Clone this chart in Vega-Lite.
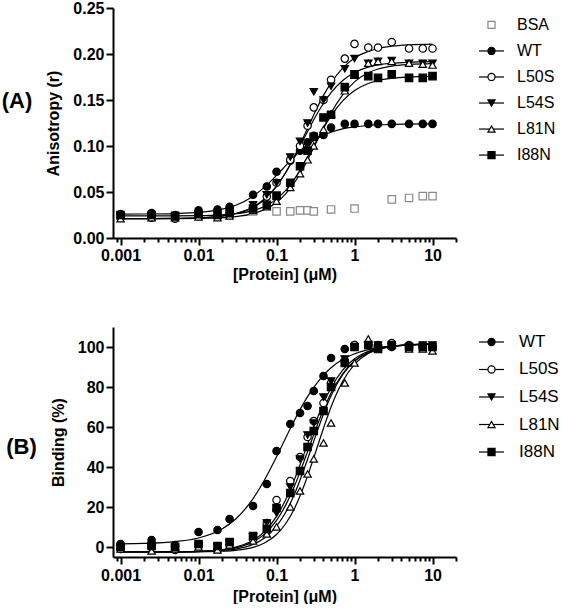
{
"$schema": "https://vega.github.io/schema/vega-lite/v6.json",
"padding": {"left": 1, "top": 0, "right": 0, "bottom": 0},
"config": {
  "font": "Liberation Sans",
  "view": {"stroke": null},
  "axis": {"domainColor": "black", "domainWidth": 2, "tickColor": "black", "tickWidth": 2, "labelColor": "black", "titleColor": "black", "labelFont": "Liberation Sans", "titleFont": "Liberation Sans", "labelFontWeight": "bold", "titleFontWeight": "bold", "grid": false, "labelFlush": false, "labelOverlap": false}
},
"columns": 2,
"spacing": {"row": 45, "column": 7},
"datasets": {
"curvesA": [
{"p":"WT","c":0.001,"v":0.026},{"p":"WT","c":0.002,"v":0.0261},{"p":"WT","c":0.005,"v":0.0266},{"p":"WT","c":0.01,"v":0.0278},{"p":"WT","c":0.02,"v":0.0313},{"p":"WT","c":0.03,"v":0.0356},{"p":"WT","c":0.05,"v":0.0455},{"p":"WT","c":0.07,"v":0.0553},{"p":"WT","c":0.1,"v":0.0681},{"p":"WT","c":0.13,"v":0.0784},{"p":"WT","c":0.17,"v":0.0886},{"p":"WT","c":0.2,"v":0.0942},{"p":"WT","c":0.25,"v":0.101},{"p":"WT","c":0.3,"v":0.1057},{"p":"WT","c":0.4,"v":0.1116},{"p":"WT","c":0.5,"v":0.1149},{"p":"WT","c":0.7,"v":0.1186},{"p":"WT","c":1,"v":0.1208},{"p":"WT","c":1.5,"v":0.1223},{"p":"WT","c":2,"v":0.1229},{"p":"WT","c":3,"v":0.1234},{"p":"WT","c":5,"v":0.1238},{"p":"WT","c":10,"v":0.124},
{"p":"L50S","c":0.001,"v":0.021},{"p":"L50S","c":0.002,"v":0.0211},{"p":"L50S","c":0.005,"v":0.0213},{"p":"L50S","c":0.01,"v":0.0219},{"p":"L50S","c":0.02,"v":0.0237},{"p":"L50S","c":0.03,"v":0.0264},{"p":"L50S","c":0.05,"v":0.0333},{"p":"L50S","c":0.07,"v":0.0419},{"p":"L50S","c":0.1,"v":0.056},{"p":"L50S","c":0.13,"v":0.0706},{"p":"L50S","c":0.17,"v":0.0888},{"p":"L50S","c":0.2,"v":0.1014},{"p":"L50S","c":0.25,"v":0.1193},{"p":"L50S","c":0.3,"v":0.1338},{"p":"L50S","c":0.4,"v":0.155},{"p":"L50S","c":0.5,"v":0.1686},{"p":"L50S","c":0.7,"v":0.1844},{"p":"L50S","c":1,"v":0.1956},{"p":"L50S","c":1.5,"v":0.2028},{"p":"L50S","c":2,"v":0.206},{"p":"L50S","c":3,"v":0.2084},{"p":"L50S","c":5,"v":0.2099},{"p":"L50S","c":10,"v":0.2107},
{"p":"L54S","c":0.001,"v":0.021},{"p":"L54S","c":0.002,"v":0.0211},{"p":"L54S","c":0.005,"v":0.0213},{"p":"L54S","c":0.01,"v":0.0219},{"p":"L54S","c":0.02,"v":0.0239},{"p":"L54S","c":0.03,"v":0.0266},{"p":"L54S","c":0.05,"v":0.0338},{"p":"L54S","c":0.07,"v":0.0424},{"p":"L54S","c":0.1,"v":0.0565},{"p":"L54S","c":0.13,"v":0.0706},{"p":"L54S","c":0.17,"v":0.088},{"p":"L54S","c":0.2,"v":0.0996},{"p":"L54S","c":0.25,"v":0.1157},{"p":"L54S","c":0.3,"v":0.1285},{"p":"L54S","c":0.4,"v":0.1465},{"p":"L54S","c":0.5,"v":0.158},{"p":"L54S","c":0.7,"v":0.171},{"p":"L54S","c":1,"v":0.1799},{"p":"L54S","c":1.5,"v":0.1857},{"p":"L54S","c":2,"v":0.1881},{"p":"L54S","c":3,"v":0.19},{"p":"L54S","c":5,"v":0.1911},{"p":"L54S","c":10,"v":0.1917},
{"p":"L81N","c":0.001,"v":0.021},{"p":"L81N","c":0.002,"v":0.021},{"p":"L81N","c":0.005,"v":0.0211},{"p":"L81N","c":0.01,"v":0.0213},{"p":"L81N","c":0.02,"v":0.0221},{"p":"L81N","c":0.03,"v":0.0232},{"p":"L81N","c":0.05,"v":0.0265},{"p":"L81N","c":0.07,"v":0.0308},{"p":"L81N","c":0.1,"v":0.0386},{"p":"L81N","c":0.13,"v":0.0476},{"p":"L81N","c":0.17,"v":0.0603},{"p":"L81N","c":0.2,"v":0.0698},{"p":"L81N","c":0.25,"v":0.0849},{"p":"L81N","c":0.3,"v":0.0983},{"p":"L81N","c":0.4,"v":0.12},{"p":"L81N","c":0.5,"v":0.1358},{"p":"L81N","c":0.7,"v":0.1553},{"p":"L81N","c":1,"v":0.1697},{"p":"L81N","c":1.5,"v":0.1796},{"p":"L81N","c":2,"v":0.1837},{"p":"L81N","c":3,"v":0.1869},{"p":"L81N","c":5,"v":0.1887},{"p":"L81N","c":10,"v":0.1896},
{"p":"I88N","c":0.001,"v":0.024},{"p":"I88N","c":0.002,"v":0.024},{"p":"I88N","c":0.005,"v":0.0241},{"p":"I88N","c":0.01,"v":0.0243},{"p":"I88N","c":0.02,"v":0.0252},{"p":"I88N","c":0.03,"v":0.0264},{"p":"I88N","c":0.05,"v":0.0298},{"p":"I88N","c":0.07,"v":0.0343},{"p":"I88N","c":0.1,"v":0.0425},{"p":"I88N","c":0.13,"v":0.0516},{"p":"I88N","c":0.17,"v":0.0642},{"p":"I88N","c":0.2,"v":0.0735},{"p":"I88N","c":0.25,"v":0.0876},{"p":"I88N","c":0.3,"v":0.1},{"p":"I88N","c":0.4,"v":0.1193},{"p":"I88N","c":0.5,"v":0.1327},{"p":"I88N","c":0.7,"v":0.1488},{"p":"I88N","c":1,"v":0.1604},{"p":"I88N","c":1.5,"v":0.168},{"p":"I88N","c":2,"v":0.1712},{"p":"I88N","c":3,"v":0.1736},{"p":"I88N","c":5,"v":0.175},{"p":"I88N","c":10,"v":0.1757}
],
"pointsA": [
{"p":"BSA","c":0.05,"v":0.029},{"p":"BSA","c":0.1,"v":0.029},{"p":"BSA","c":0.15,"v":0.029},{"p":"BSA","c":0.2,"v":0.03},{"p":"BSA","c":0.25,"v":0.03},{"p":"BSA","c":0.3,"v":0.029},{"p":"BSA","c":0.5,"v":0.031},{"p":"BSA","c":1,"v":0.032},{"p":"BSA","c":3,"v":0.042},{"p":"BSA","c":5,"v":0.0435},{"p":"BSA","c":7.5,"v":0.0455},{"p":"BSA","c":10,"v":0.0455},
{"p":"WT","c":0.001,"v":0.026},{"p":"WT","c":0.0025,"v":0.027},{"p":"WT","c":0.005,"v":0.025},{"p":"WT","c":0.01,"v":0.03},{"p":"WT","c":0.0175,"v":0.031},{"p":"WT","c":0.025,"v":0.034},{"p":"WT","c":0.05,"v":0.047},{"p":"WT","c":0.075,"v":0.056},{"p":"WT","c":0.1,"v":0.072},{"p":"WT","c":0.15,"v":0.084},{"p":"WT","c":0.2,"v":0.095},{"p":"WT","c":0.25,"v":0.104},{"p":"WT","c":0.3,"v":0.111},{"p":"WT","c":0.4,"v":0.112},{"p":"WT","c":0.5,"v":0.12},{"p":"WT","c":0.75,"v":0.124},{"p":"WT","c":1,"v":0.124},{"p":"WT","c":1.5,"v":0.124},{"p":"WT","c":2,"v":0.124},{"p":"WT","c":3,"v":0.124},{"p":"WT","c":5,"v":0.124},{"p":"WT","c":7.5,"v":0.124},{"p":"WT","c":10,"v":0.124},
{"p":"L50S","c":0.001,"v":0.022},{"p":"L50S","c":0.0025,"v":0.022},{"p":"L50S","c":0.005,"v":0.021},{"p":"L50S","c":0.01,"v":0.024},{"p":"L50S","c":0.0175,"v":0.024},{"p":"L50S","c":0.025,"v":0.026},{"p":"L50S","c":0.05,"v":0.033},{"p":"L50S","c":0.075,"v":0.045},{"p":"L50S","c":0.1,"v":0.06},{"p":"L50S","c":0.15,"v":0.085},{"p":"L50S","c":0.2,"v":0.1},{"p":"L50S","c":0.25,"v":0.122},{"p":"L50S","c":0.3,"v":0.142},{"p":"L50S","c":0.4,"v":0.15},{"p":"L50S","c":0.5,"v":0.172},{"p":"L50S","c":0.75,"v":0.195},{"p":"L50S","c":1,"v":0.211},{"p":"L50S","c":1.5,"v":0.207},{"p":"L50S","c":2,"v":0.207},{"p":"L50S","c":3,"v":0.213},{"p":"L50S","c":5,"v":0.206},{"p":"L50S","c":7.5,"v":0.206},{"p":"L50S","c":10,"v":0.206},
{"p":"L54S","c":0.001,"v":0.023},{"p":"L54S","c":0.0025,"v":0.024},{"p":"L54S","c":0.005,"v":0.023},{"p":"L54S","c":0.01,"v":0.025},{"p":"L54S","c":0.0175,"v":0.027},{"p":"L54S","c":0.025,"v":0.029},{"p":"L54S","c":0.05,"v":0.036},{"p":"L54S","c":0.075,"v":0.047},{"p":"L54S","c":0.1,"v":0.06},{"p":"L54S","c":0.15,"v":0.088},{"p":"L54S","c":0.2,"v":0.105},{"p":"L54S","c":0.25,"v":0.125},{"p":"L54S","c":0.3,"v":0.159},{"p":"L54S","c":0.4,"v":0.15},{"p":"L54S","c":0.5,"v":0.165},{"p":"L54S","c":0.75,"v":0.184},{"p":"L54S","c":1,"v":0.195},{"p":"L54S","c":1.5,"v":0.19},{"p":"L54S","c":2,"v":0.192},{"p":"L54S","c":3,"v":0.193},{"p":"L54S","c":5,"v":0.19},{"p":"L54S","c":7.5,"v":0.19},{"p":"L54S","c":10,"v":0.19},
{"p":"L81N","c":0.001,"v":0.021},{"p":"L81N","c":0.0025,"v":0.022},{"p":"L81N","c":0.005,"v":0.022},{"p":"L81N","c":0.01,"v":0.023},{"p":"L81N","c":0.0175,"v":0.022},{"p":"L81N","c":0.025,"v":0.024},{"p":"L81N","c":0.05,"v":0.03},{"p":"L81N","c":0.075,"v":0.034},{"p":"L81N","c":0.1,"v":0.04},{"p":"L81N","c":0.15,"v":0.055},{"p":"L81N","c":0.2,"v":0.07},{"p":"L81N","c":0.25,"v":0.085},{"p":"L81N","c":0.3,"v":0.1},{"p":"L81N","c":0.4,"v":0.118},{"p":"L81N","c":0.5,"v":0.135},{"p":"L81N","c":0.75,"v":0.16},{"p":"L81N","c":1,"v":0.177},{"p":"L81N","c":1.5,"v":0.19},{"p":"L81N","c":2,"v":0.192},{"p":"L81N","c":3,"v":0.192},{"p":"L81N","c":5,"v":0.19},{"p":"L81N","c":7.5,"v":0.189},{"p":"L81N","c":10,"v":0.188},
{"p":"I88N","c":0.001,"v":0.025},{"p":"I88N","c":0.0025,"v":0.025},{"p":"I88N","c":0.005,"v":0.024},{"p":"I88N","c":0.01,"v":0.026},{"p":"I88N","c":0.0175,"v":0.025},{"p":"I88N","c":0.025,"v":0.027},{"p":"I88N","c":0.05,"v":0.032},{"p":"I88N","c":0.075,"v":0.036},{"p":"I88N","c":0.1,"v":0.046},{"p":"I88N","c":0.15,"v":0.06},{"p":"I88N","c":0.2,"v":0.078},{"p":"I88N","c":0.25,"v":0.095},{"p":"I88N","c":0.3,"v":0.11},{"p":"I88N","c":0.4,"v":0.131},{"p":"I88N","c":0.5,"v":0.134},{"p":"I88N","c":0.75,"v":0.164},{"p":"I88N","c":1,"v":0.178},{"p":"I88N","c":1.5,"v":0.176},{"p":"I88N","c":2,"v":0.174},{"p":"I88N","c":3,"v":0.178},{"p":"I88N","c":5,"v":0.174},{"p":"I88N","c":7.5,"v":0.174},{"p":"I88N","c":10,"v":0.176}
],
"curvesB": [
{"p":"WT","c":0.001,"v":1.6},{"p":"WT","c":0.002,"v":1.8},{"p":"WT","c":0.005,"v":2.7},{"p":"WT","c":0.01,"v":4.5},{"p":"WT","c":0.02,"v":9},{"p":"WT","c":0.03,"v":14},{"p":"WT","c":0.05,"v":24.2},{"p":"WT","c":0.07,"v":33.5},{"p":"WT","c":0.1,"v":45.1},{"p":"WT","c":0.13,"v":54.3},{"p":"WT","c":0.17,"v":63.4},{"p":"WT","c":0.2,"v":68.7},{"p":"WT","c":0.25,"v":75.2},{"p":"WT","c":0.3,"v":79.8},{"p":"WT","c":0.4,"v":85.9},{"p":"WT","c":0.5,"v":89.6},{"p":"WT","c":0.7,"v":93.7},{"p":"WT","c":1,"v":96.6},{"p":"WT","c":1.5,"v":98.7},{"p":"WT","c":2,"v":99.6},{"p":"WT","c":3,"v":100.4},{"p":"WT","c":5,"v":101},{"p":"WT","c":10,"v":101.3},
{"p":"L50S","c":0.001,"v":-2.5},{"p":"L50S","c":0.002,"v":-2.48},{"p":"L50S","c":0.005,"v":-2.41},{"p":"L50S","c":0.01,"v":-2.21},{"p":"L50S","c":0.02,"v":-1.48},{"p":"L50S","c":0.03,"v":-0.41},{"p":"L50S","c":0.05,"v":2.59},{"p":"L50S","c":0.07,"v":6.45},{"p":"L50S","c":0.1,"v":13.3},{"p":"L50S","c":0.13,"v":20.7},{"p":"L50S","c":0.17,"v":30.5},{"p":"L50S","c":0.2,"v":37.5},{"p":"L50S","c":0.25,"v":47.7},{"p":"L50S","c":0.3,"v":56.2},{"p":"L50S","c":0.4,"v":68.7},{"p":"L50S","c":0.5,"v":77},{"p":"L50S","c":0.7,"v":86.5},{"p":"L50S","c":1,"v":93},{"p":"L50S","c":1.5,"v":97.2},{"p":"L50S","c":2,"v":98.9},{"p":"L50S","c":3,"v":100.2},{"p":"L50S","c":5,"v":101},{"p":"L50S","c":10,"v":101.4},
{"p":"L54S","c":0.001,"v":-2.5},{"p":"L54S","c":0.002,"v":-2.48},{"p":"L54S","c":0.005,"v":-2.4},{"p":"L54S","c":0.01,"v":-2.16},{"p":"L54S","c":0.02,"v":-1.33},{"p":"L54S","c":0.03,"v":-0.1},{"p":"L54S","c":0.05,"v":3.32},{"p":"L54S","c":0.07,"v":7.7},{"p":"L54S","c":0.1,"v":15.3},{"p":"L54S","c":0.13,"v":23.4},{"p":"L54S","c":0.17,"v":33.8},{"p":"L54S","c":0.2,"v":41},{"p":"L54S","c":0.25,"v":51.4},{"p":"L54S","c":0.3,"v":59.8},{"p":"L54S","c":0.4,"v":71.9},{"p":"L54S","c":0.5,"v":79.6},{"p":"L54S","c":0.7,"v":88.3},{"p":"L54S","c":1,"v":94.1},{"p":"L54S","c":1.5,"v":97.8},{"p":"L54S","c":2,"v":99.3},{"p":"L54S","c":3,"v":100.4},{"p":"L54S","c":5,"v":101.1},{"p":"L54S","c":10,"v":101.4},
{"p":"L81N","c":0.001,"v":-2.5},{"p":"L81N","c":0.002,"v":-2.5},{"p":"L81N","c":0.005,"v":-2.48},{"p":"L81N","c":0.01,"v":-2.4},{"p":"L81N","c":0.02,"v":-2.12},{"p":"L81N","c":0.03,"v":-1.65},{"p":"L81N","c":0.05,"v":-0.17},{"p":"L81N","c":0.07,"v":1.98},{"p":"L81N","c":0.1,"v":6.25},{"p":"L81N","c":0.13,"v":11.5},{"p":"L81N","c":0.17,"v":19.3},{"p":"L81N","c":0.2,"v":25.5},{"p":"L81N","c":0.25,"v":35.5},{"p":"L81N","c":0.3,"v":44.6},{"p":"L81N","c":0.4,"v":59.4},{"p":"L81N","c":0.5,"v":70},{"p":"L81N","c":0.7,"v":82.6},{"p":"L81N","c":1,"v":91.3},{"p":"L81N","c":1.5,"v":96.7},{"p":"L81N","c":2,"v":98.7},{"p":"L81N","c":3,"v":100.3},{"p":"L81N","c":5,"v":101.1},{"p":"L81N","c":10,"v":101.4},
{"p":"I88N","c":0.001,"v":-2.5},{"p":"I88N","c":0.002,"v":-2.49},{"p":"I88N","c":0.005,"v":-2.45},{"p":"I88N","c":0.01,"v":-2.31},{"p":"I88N","c":0.02,"v":-1.81},{"p":"I88N","c":0.03,"v":-1.03},{"p":"I88N","c":0.05,"v":1.3},{"p":"I88N","c":0.07,"v":4.47},{"p":"I88N","c":0.1,"v":10.4},{"p":"I88N","c":0.13,"v":17.1},{"p":"I88N","c":0.17,"v":26.5},{"p":"I88N","c":0.2,"v":33.5},{"p":"I88N","c":0.25,"v":43.9},{"p":"I88N","c":0.3,"v":52.9},{"p":"I88N","c":0.4,"v":66.5},{"p":"I88N","c":0.5,"v":75.6},{"p":"I88N","c":0.7,"v":86},{"p":"I88N","c":1,"v":93},{"p":"I88N","c":1.5,"v":97.4},{"p":"I88N","c":2,"v":99.1},{"p":"I88N","c":3,"v":100.4},{"p":"I88N","c":5,"v":101.1},{"p":"I88N","c":10,"v":101.4}
],
"pointsB": [
{"p":"WT","c":0.001,"v":1.5},{"p":"WT","c":0.0025,"v":3.5},{"p":"WT","c":0.005,"v":1},{"p":"WT","c":0.01,"v":7.5},{"p":"WT","c":0.0175,"v":8.5},{"p":"WT","c":0.025,"v":14},{"p":"WT","c":0.05,"v":20.5},{"p":"WT","c":0.075,"v":31.5},{"p":"WT","c":0.1,"v":48},{"p":"WT","c":0.15,"v":61.5},{"p":"WT","c":0.2,"v":67},{"p":"WT","c":0.25,"v":70.5},{"p":"WT","c":0.3,"v":78},{"p":"WT","c":0.4,"v":85.5},{"p":"WT","c":0.5,"v":94.5},{"p":"WT","c":0.75,"v":99},{"p":"WT","c":1,"v":101},{"p":"WT","c":1.5,"v":101},{"p":"WT","c":2,"v":101},{"p":"WT","c":3,"v":100},{"p":"WT","c":5,"v":101},{"p":"WT","c":7.5,"v":100},{"p":"WT","c":10,"v":100},
{"p":"L50S","c":0.001,"v":-1},{"p":"L50S","c":0.0025,"v":0},{"p":"L50S","c":0.005,"v":-1.5},{"p":"L50S","c":0.01,"v":1},{"p":"L50S","c":0.0175,"v":-1},{"p":"L50S","c":0.025,"v":1},{"p":"L50S","c":0.05,"v":4},{"p":"L50S","c":0.075,"v":12},{"p":"L50S","c":0.1,"v":23.5},{"p":"L50S","c":0.15,"v":33},{"p":"L50S","c":0.2,"v":45},{"p":"L50S","c":0.25,"v":55},{"p":"L50S","c":0.3,"v":63},{"p":"L50S","c":0.4,"v":72},{"p":"L50S","c":0.5,"v":82},{"p":"L50S","c":0.75,"v":93},{"p":"L50S","c":1,"v":101},{"p":"L50S","c":1.5,"v":101},{"p":"L50S","c":2,"v":100},{"p":"L50S","c":3,"v":102},{"p":"L50S","c":5,"v":100},{"p":"L50S","c":7.5,"v":100},{"p":"L50S","c":10,"v":100},
{"p":"L54S","c":0.001,"v":-1},{"p":"L54S","c":0.0025,"v":-0.5},{"p":"L54S","c":0.005,"v":-1.5},{"p":"L54S","c":0.01,"v":0.5},{"p":"L54S","c":0.0175,"v":0},{"p":"L54S","c":0.025,"v":2},{"p":"L54S","c":0.05,"v":5},{"p":"L54S","c":0.075,"v":12},{"p":"L54S","c":0.1,"v":17},{"p":"L54S","c":0.15,"v":30},{"p":"L54S","c":0.2,"v":44},{"p":"L54S","c":0.25,"v":56},{"p":"L54S","c":0.3,"v":62},{"p":"L54S","c":0.4,"v":75},{"p":"L54S","c":0.5,"v":83},{"p":"L54S","c":0.75,"v":94},{"p":"L54S","c":1,"v":100},{"p":"L54S","c":1.5,"v":101},{"p":"L54S","c":2,"v":101},{"p":"L54S","c":3,"v":100},{"p":"L54S","c":5,"v":100},{"p":"L54S","c":7.5,"v":101},{"p":"L54S","c":10,"v":101},
{"p":"L81N","c":0.001,"v":-1},{"p":"L81N","c":0.0025,"v":-2},{"p":"L81N","c":0.005,"v":-1},{"p":"L81N","c":0.01,"v":0},{"p":"L81N","c":0.0175,"v":-1.5},{"p":"L81N","c":0.025,"v":1},{"p":"L81N","c":0.05,"v":3},{"p":"L81N","c":0.075,"v":6.5},{"p":"L81N","c":0.1,"v":10},{"p":"L81N","c":0.15,"v":20},{"p":"L81N","c":0.2,"v":28},{"p":"L81N","c":0.25,"v":36.5},{"p":"L81N","c":0.3,"v":44},{"p":"L81N","c":0.4,"v":52},{"p":"L81N","c":0.5,"v":62},{"p":"L81N","c":0.75,"v":82},{"p":"L81N","c":1,"v":92},{"p":"L81N","c":1.5,"v":104},{"p":"L81N","c":2,"v":100},{"p":"L81N","c":3,"v":101},{"p":"L81N","c":5,"v":99},{"p":"L81N","c":7.5,"v":99},{"p":"L81N","c":10,"v":98},
{"p":"I88N","c":0.001,"v":0},{"p":"I88N","c":0.0025,"v":0.5},{"p":"I88N","c":0.005,"v":0},{"p":"I88N","c":0.01,"v":1.5},{"p":"I88N","c":0.0175,"v":0.5},{"p":"I88N","c":0.025,"v":2.5},{"p":"I88N","c":0.05,"v":5.5},{"p":"I88N","c":0.075,"v":9},{"p":"I88N","c":0.1,"v":19.5},{"p":"I88N","c":0.15,"v":27},{"p":"I88N","c":0.2,"v":38},{"p":"I88N","c":0.25,"v":50},{"p":"I88N","c":0.3,"v":58},{"p":"I88N","c":0.4,"v":68},{"p":"I88N","c":0.5,"v":80},{"p":"I88N","c":0.75,"v":92},{"p":"I88N","c":1,"v":100},{"p":"I88N","c":1.5,"v":101},{"p":"I88N","c":2,"v":99},{"p":"I88N","c":3,"v":101},{"p":"I88N","c":5,"v":100},{"p":"I88N","c":7.5,"v":100},{"p":"I88N","c":10,"v":100}
],
"legendA": [{"p":"BSA"},{"p":"WT"},{"p":"L50S"},{"p":"L54S"},{"p":"L81N"},{"p":"I88N"}],
"legendB": [{"p":"WT"},{"p":"L50S"},{"p":"L54S"},{"p":"L81N"},{"p":"I88N"}]
},
"concat": [
{
 "width": 343, "height": 230,
 "title": {"text": "(A)", "orient": "left", "angle": 0, "align": "right", "baseline": "middle", "anchor": "middle", "fontSize": 22, "fontWeight": "bold", "offset": -17, "dy": -22, "color": "black", "font": "Liberation Sans"},
 "layer": [
  {"data": {"name": "curvesA"}, "mark": {"type": "line", "interpolate": "monotone", "color": "black", "strokeWidth": 1.2},
   "encoding": {
    "x": {"field": "c", "type": "quantitative", "scale": {"type": "log", "domain": [0.0008, 20], "nice": false},
      "axis": {"values": [0.0009, 0.001, 0.002, 0.003, 0.004, 0.005, 0.006, 0.007, 0.008, 0.009, 0.01, 0.02, 0.03, 0.04, 0.05, 0.06, 0.07, 0.08, 0.09, 0.1, 0.2, 0.3, 0.4, 0.5, 0.6, 0.7, 0.8, 0.9, 1, 2, 3, 4, 5, 6, 7, 8, 9, 10, 20],
        "labelExpr": "abs(log(datum.value)/LN10 - round(log(datum.value)/LN10)) < 0.01 ? toString(datum.value) : ''",
        "tickSize": {"condition": {"test": "abs(log(datum.value)/LN10 - round(log(datum.value)/LN10)) < 0.01", "value": 7}, "value": 4},
        "labelFontSize": 16, "labelPadding": 2, "title": "[Protein] (μM)", "titleFontSize": 16, "titlePadding": 3}},
    "y": {"field": "v", "type": "quantitative", "scale": {"domain": [0, 0.25], "nice": false}, "axis": {"values": [0, 0.05, 0.1, 0.15, 0.2, 0.25], "format": ".2f", "tickSize": 7, "labelFontSize": 16, "labelPadding": 2, "title": "Anisotropy (r)", "titleFontSize": 16, "titlePadding": 11}},
    "detail": {"field": "p"}
   }},
  {"data": {"name": "pointsA"}, "mark": {"type": "point", "filled": true, "size": 55, "strokeWidth": 1.2, "opacity": 1},
   "encoding": {
    "x": {"field": "c", "type": "quantitative"},
    "y": {"field": "v", "type": "quantitative"},
    "shape": {"field": "p", "type": "nominal", "scale": {"domain": ["BSA", "WT", "L50S", "L54S", "L81N", "I88N"], "range": ["square", "circle", "circle", "triangle-down", "triangle-up", "square"]}, "legend": null},
    "fill": {"field": "p", "type": "nominal", "scale": {"domain": ["BSA", "WT", "L50S", "L54S", "L81N", "I88N"], "range": ["white", "black", "white", "black", "white", "black"]}, "legend": null},
    "stroke": {"field": "p", "type": "nominal", "scale": {"domain": ["BSA", "WT", "L50S", "L54S", "L81N", "I88N"], "range": ["#8a8a8a", "black", "black", "black", "black", "black"]}, "legend": null}
   }}
 ]
},
{
 "width": 95, "height": 164,
 "data": {"name": "legendA"},
 "layer": [
  {"transform": [{"filter": "datum.p != 'BSA'"}], "mark": {"type": "rule", "color": "black", "strokeWidth": 1.2},
   "encoding": {
    "y": {"field": "p", "type": "nominal", "scale": {"type": "point", "domain": ["BSA", "WT", "L50S", "L54S", "L81N", "I88N"], "padding": 0.65}, "axis": null},
    "x": {"datum": 15, "type": "quantitative", "scale": {"domain": [0, 95], "nice": false}, "axis": null},
    "x2": {"datum": 40}
   }},
  {"mark": {"type": "point", "filled": true, "size": 50, "strokeWidth": 1.2, "opacity": 1},
   "encoding": {
    "y": {"field": "p", "type": "nominal"},
    "x": {"datum": 27.5, "type": "quantitative"},
    "shape": {"field": "p", "type": "nominal", "scale": {"domain": ["BSA", "WT", "L50S", "L54S", "L81N", "I88N"], "range": ["square", "circle", "circle", "triangle-down", "triangle-up", "square"]}, "legend": null},
    "fill": {"field": "p", "type": "nominal", "scale": {"domain": ["BSA", "WT", "L50S", "L54S", "L81N", "I88N"], "range": ["white", "black", "white", "black", "white", "black"]}, "legend": null},
    "stroke": {"field": "p", "type": "nominal", "scale": {"domain": ["BSA", "WT", "L50S", "L54S", "L81N", "I88N"], "range": ["#8a8a8a", "black", "black", "black", "black", "black"]}, "legend": null}
   }},
  {"mark": {"type": "text", "align": "left", "baseline": "middle", "fontSize": 16, "color": "black", "font": "Liberation Sans"},
   "encoding": {
    "y": {"field": "p", "type": "nominal"},
    "x": {"datum": 53, "type": "quantitative"},
    "text": {"field": "p"}
   }}
 ]
},
{
 "width": 343, "height": 230,
 "title": {"text": "(B)", "orient": "left", "angle": 0, "align": "right", "baseline": "middle", "anchor": "middle", "fontSize": 22, "fontWeight": "bold", "offset": -17, "dy": 5, "color": "black", "font": "Liberation Sans"},
 "layer": [
  {"data": {"name": "curvesB"}, "mark": {"type": "line", "interpolate": "monotone", "color": "black", "strokeWidth": 1.2},
   "encoding": {
    "x": {"field": "c", "type": "quantitative", "scale": {"type": "log", "domain": [0.0008, 20], "nice": false},
      "axis": {"values": [0.0009, 0.001, 0.002, 0.003, 0.004, 0.005, 0.006, 0.007, 0.008, 0.009, 0.01, 0.02, 0.03, 0.04, 0.05, 0.06, 0.07, 0.08, 0.09, 0.1, 0.2, 0.3, 0.4, 0.5, 0.6, 0.7, 0.8, 0.9, 1, 2, 3, 4, 5, 6, 7, 8, 9, 10, 20],
        "labelExpr": "abs(log(datum.value)/LN10 - round(log(datum.value)/LN10)) < 0.01 ? toString(datum.value) : ''",
        "tickSize": {"condition": {"test": "abs(log(datum.value)/LN10 - round(log(datum.value)/LN10)) < 0.01", "value": 7}, "value": 4},
        "labelFontSize": 16, "labelPadding": 3, "title": "[Protein] (μM)", "titleFontSize": 16, "titlePadding": 5}},
    "y": {"field": "v", "type": "quantitative", "scale": {"domain": [-5, 110], "nice": false}, "axis": {"values": [0, 20, 40, 60, 80, 100], "tickSize": 7, "labelFontSize": 16, "labelPadding": 2, "title": "Binding (%)", "titleFontSize": 16, "titlePadding": 11}},
    "detail": {"field": "p"}
   }},
  {"data": {"name": "pointsB"}, "mark": {"type": "point", "filled": true, "size": 55, "strokeWidth": 1.2, "opacity": 1},
   "encoding": {
    "x": {"field": "c", "type": "quantitative"},
    "y": {"field": "v", "type": "quantitative"},
    "shape": {"field": "p", "type": "nominal", "scale": {"domain": ["BSA", "WT", "L50S", "L54S", "L81N", "I88N"], "range": ["square", "circle", "circle", "triangle-down", "triangle-up", "square"]}, "legend": null},
    "fill": {"field": "p", "type": "nominal", "scale": {"domain": ["BSA", "WT", "L50S", "L54S", "L81N", "I88N"], "range": ["white", "black", "white", "black", "white", "black"]}, "legend": null},
    "stroke": {"field": "p", "type": "nominal", "scale": {"domain": ["BSA", "WT", "L50S", "L54S", "L81N", "I88N"], "range": ["#8a8a8a", "black", "black", "black", "black", "black"]}, "legend": null}
   }}
 ]
},
{
 "width": 95, "height": 140,
 "data": {"name": "legendB"},
 "layer": [
  {"mark": {"type": "rule", "color": "black", "strokeWidth": 1.2},
   "encoding": {
    "y": {"field": "p", "type": "nominal", "scale": {"type": "point", "domain": ["WT", "L50S", "L54S", "L81N", "I88N"], "padding": 0.545}, "axis": null},
    "x": {"datum": 15, "type": "quantitative", "scale": {"domain": [0, 95], "nice": false}, "axis": null},
    "x2": {"datum": 40}
   }},
  {"mark": {"type": "point", "filled": true, "size": 50, "strokeWidth": 1.2, "opacity": 1},
   "encoding": {
    "y": {"field": "p", "type": "nominal"},
    "x": {"datum": 27.5, "type": "quantitative"},
    "shape": {"field": "p", "type": "nominal", "scale": {"domain": ["BSA", "WT", "L50S", "L54S", "L81N", "I88N"], "range": ["square", "circle", "circle", "triangle-down", "triangle-up", "square"]}, "legend": null},
    "fill": {"field": "p", "type": "nominal", "scale": {"domain": ["BSA", "WT", "L50S", "L54S", "L81N", "I88N"], "range": ["white", "black", "white", "black", "white", "black"]}, "legend": null},
    "stroke": {"field": "p", "type": "nominal", "scale": {"domain": ["BSA", "WT", "L50S", "L54S", "L81N", "I88N"], "range": ["#8a8a8a", "black", "black", "black", "black", "black"]}, "legend": null}
   }},
  {"mark": {"type": "text", "align": "left", "baseline": "middle", "fontSize": 17, "color": "black", "font": "Liberation Sans"},
   "encoding": {
    "y": {"field": "p", "type": "nominal"},
    "x": {"datum": 55, "type": "quantitative"},
    "text": {"field": "p"}
   }}
 ]
}
]
}
